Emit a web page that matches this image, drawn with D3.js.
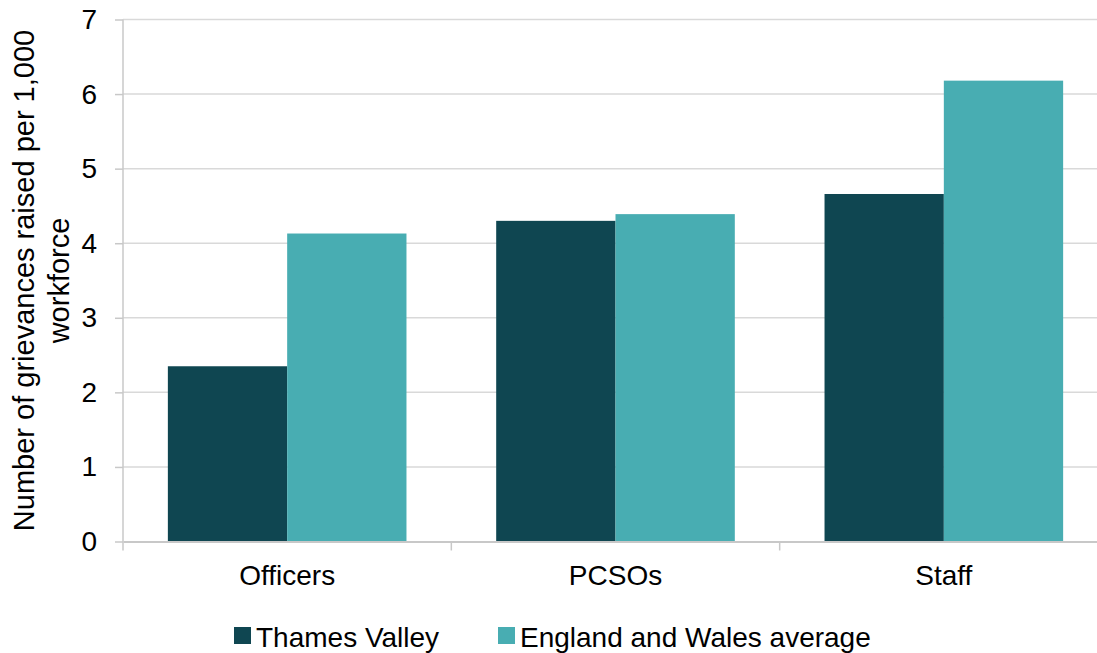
<!DOCTYPE html>
<html>
<head>
<meta charset="utf-8">
<script src="https://cdn.jsdelivr.net/npm/d3@7"></script>
<style>
body{margin:0;background:#fff;}
text{font-family:"Liberation Sans",Arial,sans-serif;fill:#000;}
</style>
</head>
<body>
<svg id="chart" width="1097" height="653"></svg>
<script>
var categories = ["Officers","PCSOs","Staff"];
var seriesNames = ["Thames Valley","England and Wales average"];
var thamesValley = [2.35, 4.30, 4.66];
var englandWales = [4.13, 4.39, 6.18];
var yTicks = [0,1,2,3,4,5,6,7];
var colors = ["#0f4651","#48adb2"];

var svg = d3.select("#chart");
var pLeft = 123, pRight = 1108, pTop = 19.5, pBottom = 541.5;

var x = d3.scaleBand().domain(categories).range([pLeft,pRight]);
var inner = d3.scaleBand().domain(seriesNames).range([0,x.bandwidth()]).paddingOuter(0.376).paddingInner(0);
var y = d3.scaleLinear().domain([0,7]).range([pBottom,pTop]);

// gridlines
svg.append("g").selectAll("line").data(yTicks.filter(function(d){return d>0;}))
	.enter().append("line")
	.attr("x1",pLeft).attr("x2",pRight)
	.attr("y1",function(d){return y(d);}).attr("y2",function(d){return y(d);})
	.attr("stroke","#d9d9d9").attr("stroke-width",1.5);

var data = categories.map(function(c,i){
	return {cat:c, vals:[thamesValley[i], englandWales[i]]};
});

var groups = svg.append("g").selectAll("g").data(data).enter().append("g")
	.attr("transform",function(d){return "translate("+x(d.cat)+",0)";});

groups.selectAll("rect").data(function(d){
	return d.vals.map(function(v,j){return {name:seriesNames[j], v:v, j:j};});
}).enter().append("rect")
	.attr("x",function(d){return inner(d.name);})
	.attr("width",inner.bandwidth())
	.attr("y",function(d){return y(d.v);})
	.attr("height",function(d){return pBottom-y(d.v);})
	.attr("fill",function(d){return colors[d.j];});

// y axis
var yAxis = svg.append("g").attr("transform","translate("+pLeft+",0)")
	.call(d3.axisLeft(y).tickValues(yTicks).tickSize(8).tickPadding(18).tickFormat(d3.format("d")));
yAxis.select(".domain").attr("stroke","#c8c8c8").attr("stroke-width",1.5).attr("d","M0,"+pTop+"V"+(pBottom+9));
yAxis.selectAll(".tick line").attr("stroke","#c8c8c8").attr("stroke-width",1.5);
yAxis.selectAll(".tick text").style("font-size","28px").attr("fill","#000");

// x axis
var xAxis = svg.append("g").attr("transform","translate(0,"+pBottom+")")
	.call(d3.axisBottom(x).tickSize(0).tickPadding(24));
xAxis.select(".domain").attr("stroke","#c8c8c8").attr("stroke-width",2);
xAxis.selectAll(".tick text").style("font-size","28px").attr("fill","#000");
svg.append("g").selectAll("line").data(categories.slice(1)).enter().append("line")
	.attr("x1",function(d){return x(d);}).attr("x2",function(d){return x(d);})
	.attr("y1",pBottom).attr("y2",pBottom+9)
	.attr("stroke","#c8c8c8").attr("stroke-width",1.5);

// y title
var yt = svg.append("text")
	.attr("transform","translate(34,"+((pTop+pBottom)/2)+") rotate(-90)")
	.attr("text-anchor","middle").style("font-size","29px");
yt.append("tspan").attr("x",0).attr("dy",0).text("Number of grievances raised per 1,000");
yt.append("tspan").attr("x",0).attr("dy",35).text("workforce");

// legend
var legX = [234, 498];
var leg = svg.append("g").selectAll("g").data(seriesNames).enter().append("g")
	.attr("transform",function(d,i){return "translate("+legX[i]+",627)";});
leg.append("rect").attr("width",17).attr("height",17).attr("fill",function(d,i){return colors[i];});
leg.append("text").attr("x",22).attr("y",20).style("font-size","28px").text(function(d){return d;});
</script>
</body>
</html>
